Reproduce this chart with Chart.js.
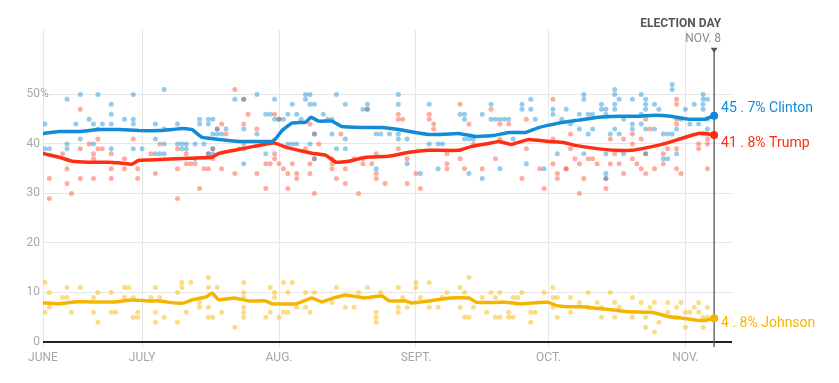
<!DOCTYPE html>
<html><head><meta charset="utf-8">
<script src="https://cdn.jsdelivr.net/npm/chart.js@4.4.1/dist/chart.umd.min.js"></script>
<style>html,body{margin:0;padding:0;background:#fff;}#wrap{width:839px;height:383px;}</style>
</head><body><div id="wrap"><canvas id="c" width="839" height="383"></canvas></div>
<script>
// ---- DATA (x = days since June 1) ----
const monthLabels = ['JUNE','JULY','AUG.','SEPT.','OCT.','NOV.'];
const monthDays = [7.56, 30, 61, 92, 122, 153];
const yTicks = [0,10,20,30,40,50];
const electionDay = 159.5;
const candidates = ['Clinton','Trump','Johnson'];
const finalPct = [45.7, 41.8, 4.8];

const clintonTrend = [[7.4,42.1],[11.2,42.5],[15.8,42.5],[20.3,42.9],[24.8,42.9],[29.3,42.7],[33.8,42.7],[39.5,43.1],[41.3,42.9],[43.6,41.3],[47.4,40.9],[51.9,40.5],[56.4,40.5],[59.4,40.5],[60.3,41.1],[61.7,42.7],[63.9,44.2],[67.1,44.4],[68.2,45.4],[70.0,44.6],[73.0,44.6],[75.2,43.5],[79.7,43.3],[84.3,43.3],[88.1,42.9],[91.9,42.3],[94.9,41.9],[97.1,41.9],[101.7,42.1],[105.5,41.5],[109.6,41.7],[113.0,42.3],[116.8,42.3],[119.8,43.3],[124.3,44.2],[128.8,44.8],[133.3,45.4],[137.9,45.6],[142.4,45.6],[146.2,45.8],[149.6,45.6],[153.7,45.0],[157.5,45.0],[159.5,45.7]];
const trumpTrend = [[7.4,38.1],[11.2,37.3],[14.2,36.5],[18.0,36.3],[21.9,36.3],[25.5,36.1],[27.7,35.9],[29.3,36.7],[35.0,36.9],[40.6,37.1],[45.8,37.3],[47.4,38.1],[51.9,38.9],[55.3,39.5],[58.7,40.1],[60.3,40.1],[62.6,39.3],[65.5,38.7],[68.4,38.1],[71.6,37.7],[73.9,36.3],[76.8,36.5],[80.6,37.3],[85.8,37.5],[90.4,38.3],[94.9,38.7],[101.7,38.7],[104.6,39.5],[108.5,40.1],[110.7,40.5],[113.6,39.9],[117.5,40.9],[122.0,40.5],[125.4,40.3],[128.1,39.7],[132.6,39.1],[137.2,38.7],[140.8,38.7],[144.6,39.3],[148.5,40.1],[152.1,41.1],[155.9,42.1],[157.5,42.1],[159.5,41.8]];
const johnsonTrend = [[7.4,7.9],[11.2,7.7],[14.6,8.1],[18.0,8.1],[23.7,8.1],[27.7,8.5],[31.6,8.3],[33.8,8.3],[37.2,7.9],[39.5,7.9],[41.3,8.5],[44.5,9.1],[45.8,9.9],[47.4,8.5],[50.8,8.9],[54.2,8.3],[58.0,8.3],[59.4,7.7],[64.8,7.7],[68.4,8.9],[70.7,8.1],[73.4,8.9],[76.1,9.5],[80.2,8.9],[84.3,9.3],[86.0,8.3],[89.7,8.3],[91.0,7.9],[95.0,8.3],[99.6,8.9],[104.0,8.9],[105.7,8.0],[110.3,8.0],[113.0,8.0],[115.3,7.7],[119.8,8.0],[122.0,8.0],[123.7,7.4],[126.6,7.1],[129.6,7.1],[132.8,6.8],[137.3,6.4],[140.3,6.1],[144.8,6.0],[146.4,5.8],[149.3,5.1],[152.3,4.8],[155.5,4.4],[157.7,4.4],[159.5,4.8]];

const clintonPolls = [[8,44],[8,39],[9,39],[13,49],[16,50],[20,50],[13,40],[13,39],[15,44],[16,41],[18,45],[19,44],[20,43],[21,44],[23,48],[23,46],[23,44],[23,39],[19,40],[26,45],[28,45],[28,50],[28,44],[35,51],[33,44],[35,43],[33,41],[35,40],[38,44],[38,40],[39,40],[40,40],[40,39],[42,40],[43,45],[43,44],[44,40],[45,45],[45,44],[46,45],[46,42],[47,43],[47,42],[48,42],[49,43],[51,49],[53,49],[53,43],[56,50],[56,42],[58,46],[59,46],[60,49],[60,45],[61,45],[62,45],[63,46],[64,48],[65,46],[66,45],[67,50],[67,49],[68,50],[68,48],[69,48],[69,42],[71,46],[72,45],[73,45],[73,42],[74,50],[63,40],[64,40],[65,40],[68,40],[69,37],[74,39],[53,39],[53,36],[58,38],[28,39],[30,39],[33,38],[34,38],[35,38],[39,39],[42,37],[45,38],[46,39],[46,38],[76,48],[80,47],[81,48],[81,47],[88,50],[88,48],[95,48],[102,46],[103,46],[103,45],[107,46],[109,48],[109,45],[110,45],[111,45],[112,45],[113,45],[116,48],[116,47],[118,49],[118,47],[119,45],[123,47],[123,46],[126,47],[130,50],[130,49],[131,46],[132,46],[76,41],[76,39],[83,42],[83,35],[84,42],[86,42],[88,42],[88,41],[90,41],[90,36],[95,40],[97,40],[97,35],[98,40],[103,41],[104,41],[104,34],[105,41],[107,33],[111,35],[114,41],[117,36],[121,35],[93,34],[124,38],[130,38],[135,38],[135,34],[139,38],[144,38],[149,37],[151,38],[134,48],[134,47],[135,47],[137,50],[137,51],[138,49],[141,49],[137,48],[137,47],[143,50],[144,49],[144,48],[144,47],[146,48],[147,47],[150,52],[150,51],[153,47],[155,48],[157,50],[157,49],[157,48],[158,49],[157,47],[129,46],[135,46],[143,46],[136,42],[137,43],[138,42],[141,43],[143,44],[144,43],[146,43],[148,42],[149,42],[150,42],[151,43],[132,43],[131,42],[129,43],[135,33],[148,37],[157,42],[158,43],[152,45],[154,44],[156,44],[158,45],[139,45],[141,44],[127,44],[125,45]];
const trumpPolls = [[7,36],[9,33],[9,29],[12,38],[13,35],[13,32],[14,30],[16,39],[16,47],[16,33],[18,40],[19,38],[19,37],[19,33],[20,41],[20,39],[21,39],[23,38],[23,35],[23,33],[26,37],[26,35],[28,41],[29,35],[29,33],[32,38],[33,34],[34,40],[38,35],[38,29],[38,39],[40,38],[40,36],[41,36],[42,36],[43,31],[44,35],[45,35],[45,38],[46,37],[46,39],[47,43],[48,44],[48,35],[49,42],[51,34],[51,51],[52,39],[53,49],[53,44],[53,40],[54,46],[56,34],[56,43],[58,36],[58,31],[59,36],[60,38],[60,37],[60,46],[61,36],[61,45],[62,35],[63,34],[63,31],[64,36],[65,34],[65,33],[67,39],[68,36],[68,34],[68,44],[69,30],[69,37],[69,42],[70,40],[73,37],[73,36],[73,35],[74,33],[75,42],[76,35],[76,32],[78,37],[79,30],[80,36],[80,37],[81,47],[82,36],[83,38],[83,34],[83,33],[85,32],[88,46],[88,45],[88,39],[89,45],[90,37],[90,32],[92,34],[93,31],[95,46],[95,45],[96,44],[96,43],[99,38],[99,35],[99,36],[102,48],[102,37],[103,35],[104,44],[105,40],[107,35],[109,47],[110,37],[111,44],[111,41],[113,44],[116,33],[117,45],[117,39],[120,35],[121,31],[123,49],[123,41],[123,36],[124,33],[124,34],[126,35],[129,36],[129,30],[130,33],[131,37],[132,37],[133,36],[135,33],[135,31],[136,36],[136,41],[137,38],[138,36],[139,41],[139,34],[141,42],[141,37],[141,40],[142,36],[143,41],[143,35],[144,45],[144,38],[144,34],[145,43],[146,35],[148,38],[148,36],[149,39],[151,49],[151,48],[151,45],[151,44],[151,39],[151,35],[152,34],[156,39],[156,40],[158,42],[158,40],[158,41],[158,35],[127,42],[127,39],[128,37],[126,35]];
const johnsonPolls = [[8,12],[9,10],[8,6],[9,7],[13,11],[12,9],[13,9],[14,6],[16,11],[19,9],[19,6],[20,4],[20,10],[23,10],[23,6],[24,6],[26,11],[27,11],[26,9],[28,9],[28,5],[29,6],[29,5],[32,9],[33,11],[33,6],[33,4],[35,5],[34,9],[38,10],[38,4],[39,12],[39,11],[40,6],[41,12],[43,8],[43,7],[45,13],[45,11],[45,7],[45,5],[46,5],[47,11],[48,6],[51,3],[53,12],[53,10],[53,9],[53,7],[53,6],[53,5],[58,5],[59,11],[60,10],[60,9],[59,6],[61,5],[62,12],[62,6],[63,10],[63,6],[64,12],[65,7],[67,10],[67,7],[68,6],[69,10],[74,11],[73,8],[76,7],[78,7],[79,10],[81,11],[83,6],[83,4],[83,5],[84,10],[88,11],[88,7],[88,6],[89,9],[90,7],[92,12],[92,11],[93,9],[95,12],[95,7],[97,7],[98,9],[99,10],[102,11],[102,7],[103,10],[103,5],[104,13],[104,5],[105,7],[107,9],[108,6],[109,10],[110,9],[111,10],[110,5],[111,5],[113,6],[113,5],[114,5],[114,9],[115,9],[116,10],[118,6],[118,4],[119,6],[121,10],[123,11],[123,9],[124,9],[123,7],[124,5],[127,9],[127,6],[129,8],[131,10],[131,7],[133,8],[134,7],[134,5],[136,10],[137,8],[137,5],[138,7],[141,9],[141,5],[143,8],[144,5],[144,3],[145,7],[146,8],[146,2],[147,4],[149,8],[149,6],[151,7],[151,5],[152,8],[153,3],[154,6],[156,6],[156,8],[157,5],[157,3],[158,7],[158,5],[155,7],[153,6]];

// ---- STYLE ----
const lineColors = ['#118bd5','#ff2d12','#f6b400'];
const dotColors = ['rgba(20,140,210,0.45)','rgba(255,70,40,0.45)','rgba(250,185,10,0.5)'];
const labelShift = [-7, 9, 5];
const FONT = 'Roboto, "Liberation Sans", sans-serif';
Chart.defaults.font.family = FONT;

const toPts = arr => arr.map(p => ({x:p[0], y:p[1]}));
const trends = [clintonTrend, trumpTrend, johnsonTrend];
const polls = [clintonPolls, trumpPolls, johnsonPolls];

const datasets = [];
candidates.forEach((name,i)=>{
  datasets.push({label:name+' polls', data:toPts(polls[i]), showLine:false, pointRadius:2.5, pointHoverRadius:2.5,
    pointBackgroundColor:dotColors[i], pointBorderWidth:0, order:2});
});
candidates.forEach((name,i)=>{
  datasets.push({label:name, data:toPts(trends[i]), showLine:true, borderColor:lineColors[i], borderWidth:3.5,
    pointRadius:0, tension:0.1, borderJoinStyle:'round', borderCapStyle:'round', order:1});
});

const overlay = {
  id:'overlay',
  afterDatasetsDraw(chart){
    const {ctx, chartArea, scales:{x,y}} = chart;
    ctx.save();
    ctx.font = '12px ' + FONT; ctx.fillStyle = '#a8a8a8'; ctx.textBaseline = 'middle';
    yTicks.forEach(v=>{
      const py = y.getPixelForValue(v);
      ctx.textAlign = 'right'; ctx.fillText(String(v), chartArea.left-3, py);
      if (v === yTicks[yTicks.length-1]) { ctx.textAlign='left'; ctx.fillText('%', chartArea.left-3, py); }
    });
    const ex = x.getPixelForValue(electionDay);
    const topY = y.getPixelForValue(58.6);
    ctx.strokeStyle = '#555'; ctx.lineWidth = 1.3;
    ctx.beginPath(); ctx.moveTo(ex, topY); ctx.lineTo(ex, y.getPixelForValue(0)+5); ctx.stroke();
    ctx.fillStyle = '#555';
    ctx.beginPath(); ctx.moveTo(ex-3.5, topY-4); ctx.lineTo(ex+3.5, topY-4); ctx.lineTo(ex, topY+1); ctx.closePath(); ctx.fill();
    ctx.textAlign = 'right'; ctx.textBaseline = 'alphabetic';
    ctx.font = 'bold 12px ' + FONT; ctx.fillStyle = '#555';
    ctx.fillText('ELECTION DAY', ex+7, chartArea.top-3);
    ctx.font = '12px ' + FONT; ctx.fillStyle = '#8a8a8a';
    ctx.fillText('NOV. 8', ex+7, chartArea.top+12);
    candidates.forEach((name,i)=>{
      const py = y.getPixelForValue(finalPct[i]);
      ctx.fillStyle = lineColors[i];
      ctx.beginPath(); ctx.arc(ex, py, 4, 0, Math.PI*2); ctx.fill();
      ctx.font = '14px ' + FONT; ctx.textAlign='left'; ctx.textBaseline='middle';
      const s = finalPct[i].toFixed(1).split('.');
      ctx.fillText(s[0] + ' . ' + s[1] + '% ' + name, ex+7, py + labelShift[i]);
    });
    ctx.restore();
  }
};

new Chart(document.getElementById('c'), {
  type:'scatter',
  data:{datasets},
  options:{
    responsive:false, animation:false, events:[],
    layout:{padding:{left:0, right:107, top:30, bottom:0}},
    plugins:{legend:{display:false}, tooltip:{enabled:false}},
    scales:{
      x:{type:'linear', min:7.56, max:163.55,
        afterBuildTicks:s=>{ s.ticks = monthDays.map(v=>({value:v})); },
        afterFit:s=>{ s.height = 41; },
        ticks:{autoSkip:false, maxRotation:0, color:'#a6a6a6', font:{size:12}, padding:3,
          callback:(v,i)=>monthLabels[i]},
        grid:{color:'#e6e6e6', lineWidth:1, tickLength:6, drawTicks:true},
        border:{display:false}},
      y:{type:'linear', min:0, max:63,
        afterBuildTicks:s=>{ s.ticks = yTicks.map(v=>({value:v})); },
        afterFit:s=>{ s.width = 43; },
        ticks:{display:false},
        grid:{color:c=>c.tick && c.tick.value===0 ? '#222' : '#e6e6e6', lineWidth:c=>c.tick && c.tick.value===0 ? 2 : 1, drawTicks:false},
        border:{display:false}}
    }
  },
  plugins:[overlay]
});
</script></body></html>
